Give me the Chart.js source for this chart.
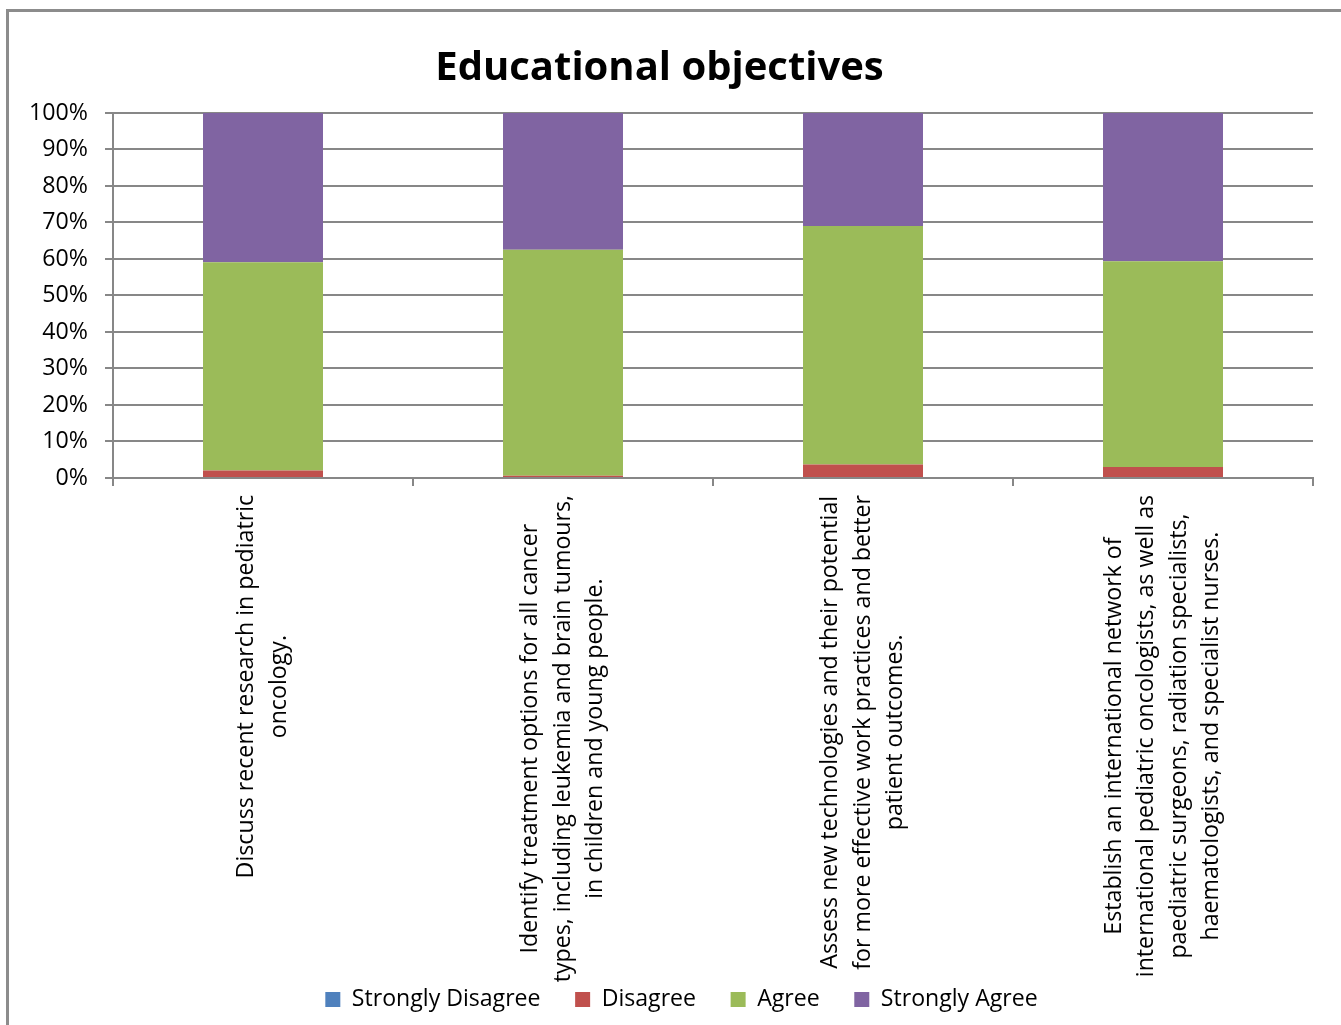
<!DOCTYPE html>
<html>
<head>
<meta charset="utf-8">
<title>Educational objectives</title>
<script src="https://cdn.jsdelivr.net/npm/chart.js@4"></script>
<style>
body{margin:0;background:#fff;overflow:hidden}
</style>
</head>
<body>
<canvas id="graph" width="1341" height="1025"></canvas>
<script>

// categories, one array of lines per objective
const categories=[
["Discuss recent research in pediatric","oncology."],
["Identify treatment options for all cancer","types, including leukemia and brain tumours,","in children and young people."],
["Assess new technologies and their potential","for more effective work practices and better","patient outcomes."],
["Establish an international network of","international pediatric oncologists, as well as","paediatric surgeons, radiation specialists,","haematologists, and specialist nurses."]
];

// share of answers, percent
const stronglyDisagree=[0,0,0,0];
const disagree=[2.0,0.6,3.7,3.0];
const agree=[57.1,61.9,65.3,56.4];
const stronglyAgree=[40.9,37.5,31.0,40.6];

const FONT="'Open Sans', sans-serif";
const GRID="#878787";

// grey frame along the top and left edge; title and legend boxes nudged
const framePlugin={
id:"frame",
afterLayout(chart){
chart.titleBlock.left=0;
chart.titleBlock.right=1319;
chart.legend.left=50;
chart.legend.right=1313;
},
beforeDraw(chart){
const c=chart.ctx;
c.save();
c.fillStyle="#fff";
c.fillRect(0,0,chart.width,chart.height);
c.strokeStyle="#8c8c8c";
c.lineWidth=3;
c.beginPath();
c.moveTo(7.5,chart.height);
c.lineTo(7.5,10.5);
c.lineTo(chart.width,10.5);
c.stroke();
c.restore();
}
};

// rotated, centred multi-line category labels
const catLabels={
id:"catLabels",
afterDraw(chart){
const c=chart.ctx;
const xs=chart.scales.x;
const top=chart.chartArea.bottom+17;
const lh=32.5;
c.save();
c.font="23.2px "+FONT;
c.fillStyle="#000";
c.textAlign="center";
c.textBaseline="middle";
categories.forEach((lines,i)=>{
const x=xs.getPixelForValue(i);
let w=0;
lines.forEach(l=>{w=Math.max(w,c.measureText(l).width);});
const yc=top+w/2;
lines.forEach((l,j)=>{
c.save();
c.translate(x+(j-(lines.length-1)/2)*lh,yc);
c.rotate(-Math.PI/2);
c.fillText(l,0,0);
c.restore();
});
});
c.restore();
}
};

const ctx=document.getElementById("graph");

new Chart(ctx,{
type:"bar",
data:{
labels:categories.map(l=>l.join(" ")),
datasets:[
{label:"Strongly Disagree",data:stronglyDisagree,backgroundColor:"#4F81BD"},
{label:"Disagree",data:disagree,backgroundColor:"#C0504D"},
{label:"Agree",data:agree,backgroundColor:"#9BBB59"},
{label:"Strongly Agree",data:stronglyAgree,backgroundColor:"#8064A2"}
]
},
options:{
responsive:false,
animation:false,
devicePixelRatio:1,
barPercentage:0.4,
categoryPercentage:1,
layout:{padding:{left:0,right:28,top:10,bottom:4}},
plugins:{
tooltip:{enabled:false},
title:{
display:true,
text:"Educational objectives",
color:"#000",
font:{family:FONT,size:40,weight:"bold",lineHeight:1.2},
padding:{top:35,bottom:20}
},
legend:{
position:"bottom",
labels:{
color:"#000",
font:{family:FONT,size:23.1},
boxWidth:15,
boxHeight:15,
padding:34.6
}
}
},
scales:{
x:{
stacked:true,
grid:{drawOnChartArea:false,drawTicks:true,tickLength:8,color:GRID,lineWidth:2},
border:{color:GRID,width:2},
ticks:{display:false},
afterFit(s){s.height=475.4;}
},
y:{
stacked:true,
min:0,
max:100,
grid:{color:GRID,lineWidth:2,tickLength:8},
border:{color:GRID,width:2},
ticks:{
stepSize:10,
color:"#000",
padding:17,
font:{family:FONT,size:23.2},
callback:v=>v+"%"
},
afterFit(s){s.width=113;}
}
}
},
plugins:[framePlugin,catLabels]
});

</script>
</body>
</html>
